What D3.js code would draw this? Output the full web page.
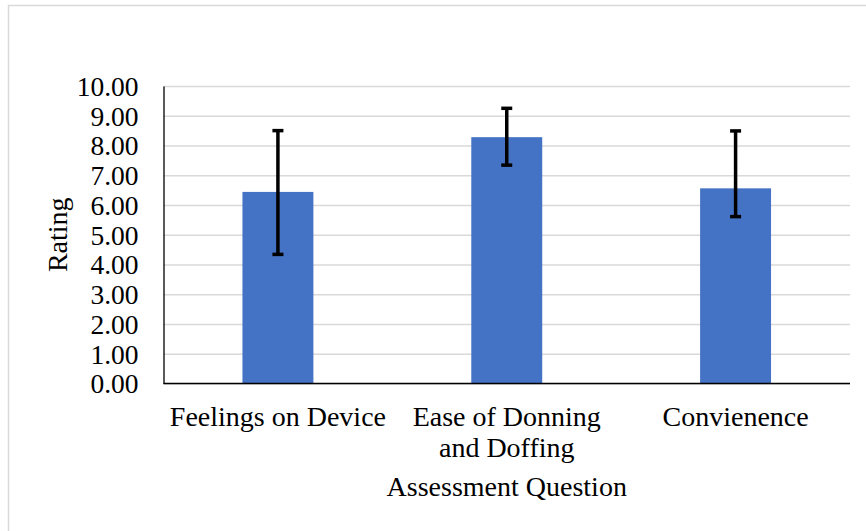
<!DOCTYPE html>
<html>
<head>
<meta charset="utf-8">
<script src="https://cdn.jsdelivr.net/npm/d3@7"></script>
<style>
  body { margin: 0; background: white; }
  svg { display: block; }
  text { font-family: "Liberation Serif", "Times New Roman", serif; fill: black; }
</style>
</head>
<body>
<div id="chart"></div>
<script>
// data
let categories = [["Feelings on Device"], ["Ease of Donning", "and Doffing"], ["Convienence"]];
let ratings = [6.44, 8.28, 6.56];
let errUpper = [2.06, 0.97, 1.93];
let errLower = [2.10, 0.94, 0.95];
let yTicks = [0, 1, 2, 3, 4, 5, 6, 7, 8, 9, 10];

let w = 866;
let h = 531;
let padL = 163.5, padR = 850, padT = 86, padB = 383.5;
let fontSize = "28px";

let svg = d3.select("#chart")
  .append("svg")
    .attr("width", w)
    .attr("height", h)
;

// outer frame
svg.append("rect")
    .attr("x", 8.5).attr("y", 5.5)
    .attr("width", 900).attr("height", 560)
    .style("fill", "white")
    .style("stroke", "#d9d9d9")
    .style("stroke-width", 1.5)
;

let x = d3.scaleBand()
    .domain(d3.range(categories.length))
    .range([padL, padR])
    .paddingInner(0.69)
    .paddingOuter(0.345)
;

let y = d3.scaleLinear()
    .domain([0, 10])
    .range([padB, padT])
;

//grid
svg.append("g")
    .attr("transform", `translate(${padL},0)`)
    .call(d3.axisLeft(y).tickValues(yTicks).tickSize(-(padR - padL)).tickFormat(""))
    .call(g => g.select(".domain").remove())
    .call(g => g.selectAll("line").style("stroke", "#d9d9d9").style("stroke-width", 1.5))
;

//bars
svg.selectAll(".bar").data(ratings)
  .enter()
  .append("rect")
    .attr("class", "bar")
    .attr("x", (d, i) => x(i))
    .attr("y", d => y(d))
    .attr("width", x.bandwidth())
    .attr("height", d => y(0) - y(d))
    .style("fill", "#4472c4")
;

//error bars
let eb = svg.selectAll(".err").data(ratings)
  .enter()
  .append("g")
    .attr("class", "err")
    .attr("transform", (d, i) => `translate(${x(i) + x.bandwidth() / 2},0)`)
;
eb.append("line")
    .attr("y1", (d, i) => y(d + errUpper[i]))
    .attr("y2", (d, i) => y(d - errLower[i]))
    .style("stroke", "black").style("stroke-width", 3.5)
;
eb.append("line")
    .attr("x1", -5.5).attr("x2", 5.5)
    .attr("y1", (d, i) => y(d + errUpper[i]))
    .attr("y2", (d, i) => y(d + errUpper[i]))
    .style("stroke", "black").style("stroke-width", 3.5)
;
eb.append("line")
    .attr("x1", -5.5).attr("x2", 5.5)
    .attr("y1", (d, i) => y(d - errLower[i]))
    .attr("y2", (d, i) => y(d - errLower[i]))
    .style("stroke", "black").style("stroke-width", 3.5)
;

//y axis
let yAxis = svg.append("g")
    .attr("transform", `translate(${padL},0)`)
    .call(d3.axisLeft(y).tickValues(yTicks).tickSize(0).tickPadding(25).tickFormat(d3.format(".2f")))
;
yAxis.select(".domain").style("stroke", "black").style("stroke-width", 1.3);
yAxis.selectAll("text")
    .style("font-size", "27.5px")
    .attr("font-family", null)
    .attr("dy", "0.34em")
;

//x axis
let xAxis = svg.append("g")
    .attr("transform", `translate(0,${padB})`)
    .call(d3.axisBottom(x).tickSize(0).tickFormat(""))
;
xAxis.select(".domain")
    .attr("d", `M${padL},0H${padR}`)
    .style("stroke", "black").style("stroke-width", 1.3);

xAxis.selectAll(".tick")
  .append("text")
    .style("font-size", fontSize)
    .attr("text-anchor", "middle")
    .attr("y", 42)
    .selectAll("tspan")
    .data(i => categories[i])
    .enter()
    .append("tspan")
      .attr("x", 0)
      .attr("dy", (d, j) => j == 0 ? 0 : 31)
      .text(d => d)
;

//axis titles
svg.append("text")
    .attr("x", (padL + padR) / 2)
    .attr("y", 496)
    .attr("text-anchor", "middle")
    .style("font-size", fontSize)
    .text("Assessment Question")
;
svg.append("text")
    .attr("transform", `translate(67,${(padT + padB) / 2}) rotate(-90)`)
    .attr("text-anchor", "middle")
    .style("font-size", fontSize)
    .text("Rating")
;
</script>
</body>
</html>
